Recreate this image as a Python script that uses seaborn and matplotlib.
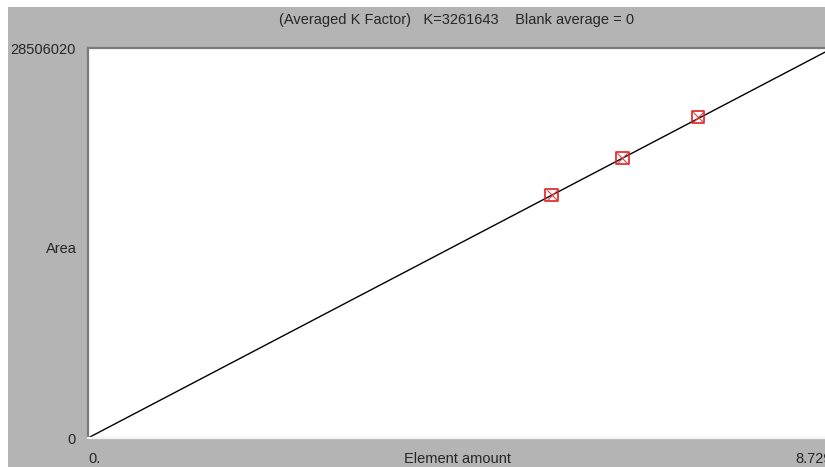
import seaborn as sns
import matplotlib.pyplot as plt
from matplotlib.patches import Rectangle
import pandas as pd

# calibration data
std_amount = [5.44, 6.27, 7.16]
std_area = [17750000, 20480000, 23450000]
fit_x = [0.0, 8.729]
fit_y = [0, 28471900]
x_ticks = [0.0, 8.729]
x_tick_labels = ["0.", "8.729"]
y_ticks = [0, 28506020]
y_tick_labels = ["0", "28506020"]
title = "(Averaged K Factor)   K=3261643    Blank average = 0"

sns.set_style("white")
plt.rcParams['font.family'] = ['Liberation Sans', 'DejaVu Sans']

W, H = 825, 467
fig = plt.figure(figsize=(W / 100, H / 100), dpi=100, facecolor='#b4b4b4')
# white margins of the window capture (top and left)
fig.patches.append(Rectangle((0, 1 - 7 / H), 1, 7 / H, transform=fig.transFigure,
                             facecolor='white', edgecolor='none', zorder=-1))
fig.patches.append(Rectangle((0, 0), 8 / W, 1, transform=fig.transFigure,
                             facecolor='white', edgecolor='none', zorder=-1))

ax = fig.add_axes([88 / W, 1 - 438 / H, 744 / W, 390 / H])
ax.set_facecolor('white')

fit_df = pd.DataFrame({'amount': fit_x, 'area': fit_y})
std_df = pd.DataFrame({'amount': std_amount, 'area': std_area})

sns.lineplot(data=fit_df, x='amount', y='area', ax=ax, color='black', linewidth=1.0)
sns.scatterplot(data=std_df, x='amount', y='area', ax=ax, marker='s', s=80,
                facecolor='none', edgecolor='#e02020', linewidth=1.2, zorder=3)
sns.scatterplot(data=std_df, x='amount', y='area', ax=ax, marker='x', s=55,
                color='#e04040', linewidth=0.8, zorder=3)

ax.set_xlim(0, 8.729)
ax.set_ylim(0, 28506020)

ax.set_xticks(x_ticks)
ax.set_xticklabels(x_tick_labels, fontsize=10.5)
xl = ax.get_xticklabels()
xl[0].set_ha('left')
xl[1].set_ha('right')
ax.set_yticks(y_ticks)
ax.set_yticklabels(y_tick_labels, fontsize=10.5)
ax.tick_params(axis='both', length=0)
ax.tick_params(axis='x', pad=10)
ax.tick_params(axis='y', pad=9)

ax.set_xlabel("Element amount", fontsize=10.5)
ax.xaxis.set_label_coords(0.497, -21 / 390)
ax.xaxis.label.set_va('center')
ax.set_ylabel("Area", fontsize=10.5, rotation=0, ha='right', va='center')
ax.yaxis.set_label_coords(-11 / 744, 0.485)

fig.text(457 / W, 1 - 20 / H, title, ha='center', va='center', fontsize=10.5)

# sunken window border
for side in ['top', 'left']:
    ax.spines[side].set_color('#7a7a7a')
    ax.spines[side].set_linewidth(1.6)
ax.spines['bottom'].set_color('#f4f4f4')
ax.spines['bottom'].set_linewidth(1.6)
ax.spines['right'].set_visible(False)

fig.savefig('out.png', dpi=100, facecolor=fig.get_facecolor())
